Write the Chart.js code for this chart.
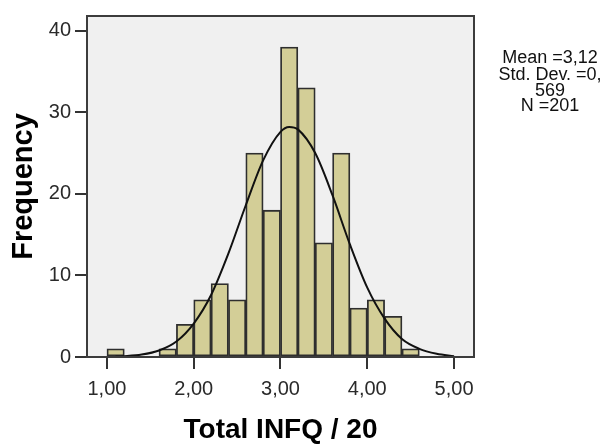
<!DOCTYPE html>
<html>
<head>
<meta charset="utf-8">
<script src="https://cdn.jsdelivr.net/npm/chart.js@4"></script>
<style>
  html, body { margin: 0; padding: 0; background: #fff; }
  #wrap { width: 606px; height: 444px; }
</style>
</head>
<body>
<div id="wrap"><canvas id="hist" width="606" height="444"></canvas></div>
<script>
// histogram bins (lower edge, width 0.2) and counts
const binStart = [1.0, 1.2, 1.4, 1.6, 1.8, 2.0, 2.2, 2.4, 2.6, 2.8, 3.0, 3.2, 3.4, 3.6, 3.8, 4.0, 4.2, 4.4];
const counts   = [1,   0,   0,   1,   4,   7,   9,   7,   25,  18,  38,  33,  14,  25,  6,   7,   5,   1];
const binWidth = 0.2;

// normal curve
const curveX = [1.1, 1.2, 1.4, 1.6, 1.8, 2.0, 2.2, 2.4, 2.6, 2.8, 3.0, 3.1, 3.2, 3.4, 3.6, 3.8, 4.0, 4.2, 4.4, 4.6, 4.8, 5.0];
const curveY = [0.05, 0.1, 0.3, 0.8, 1.9, 4.1, 7.6, 12.7, 18.6, 24.1, 27.6, 28.2, 27.9, 25.0, 19.8, 13.8, 8.5, 4.7, 2.2, 1.0, 0.4, 0.1];

const xTicks = [1, 2, 3, 4, 5];
const yTicks = [0, 10, 20, 30, 40];
const statsLines = ['Mean =3,12', 'Std. Dev. =0,', '569', 'N =201'];

const fontName = '"Liberation Sans", Arial, sans-serif';

// grey plot area + frame + stats text
const frame = {
  id: 'frame',
  beforeDraw(chart) {
    const a = chart.chartArea, ctx = chart.ctx;
    ctx.save();
    ctx.fillStyle = '#f0f0f0';
    ctx.fillRect(a.left, a.top, a.right - a.left, a.bottom - a.top);
    ctx.restore();
  },
  afterDraw(chart) {
    const a = chart.chartArea, ctx = chart.ctx;
    ctx.save();
    ctx.strokeStyle = '#3c3c3c';
    ctx.lineWidth = 2;
    ctx.strokeRect(a.left, a.top, a.right - a.left, a.bottom - a.top);
    ctx.fillStyle = '#111';
    ctx.font = '18px ' + fontName;
    ctx.textAlign = 'center';
    ctx.textBaseline = 'middle';
    const ys = [58, 75, 91, 106];
    statsLines.forEach((t, i) => ctx.fillText(t, 550, ys[i]));
    ctx.restore();
  }
};

const barData = binStart.map((s, i) => ({x: s + binWidth / 2, y: counts[i]}));
const lineData = curveX.map((x, i) => ({x: x, y: curveY[i]}));

new Chart(document.getElementById('hist'), {
  type: 'bar',
  data: {
    datasets: [{
      type: 'line',
      data: lineData,
      borderColor: '#111',
      borderWidth: 2,
      pointRadius: 0,
      fill: false,
      cubicInterpolationMode: 'monotone',
      order: 0
    }, {
      type: 'bar',
      data: barData,
      backgroundColor: '#d3ce97',
      borderColor: '#2e2e2e',
      borderWidth: 1.8,
      borderSkipped: false,
      barPercentage: 1,
      categoryPercentage: 1,
      order: 1
    }]
  },
  options: {
    responsive: false,
    animation: false,
    events: [],
    layout: { padding: { top: 14, right: 132, left: 0, bottom: 0 } },
    plugins: { legend: { display: false }, tooltip: { enabled: false } },
    scales: {
      x: {
        type: 'linear',
        offset: false,
        min: 0.77,
        max: 5.23,
        afterBuildTicks: s => { s.ticks = xTicks.map(v => ({value: v})); },
        afterFit: s => { s.height = 87; },
        grid: { offset: false, drawOnChartArea: false, drawTicks: true, tickLength: 12, color: '#333', lineWidth: 2 },
        border: { display: false },
        ticks: {
          color: '#2a2a2a',
          font: { family: fontName, size: 20 },
          padding: 8,
          callback: v => v.toFixed(2).replace('.', ',')
        },
        title: {
          display: true,
          text: 'Total INFQ / 20',
          color: '#000',
          font: { family: fontName, size: 28, weight: 'bold', lineHeight: 1 },
          padding: { top: 0, bottom: 0 }
        }
      },
      y: {
        min: 0,
        max: 41.8,
        afterBuildTicks: s => { s.ticks = yTicks.map(v => ({value: v})); },
        afterFit: s => { s.width = 87; },
        grid: { drawOnChartArea: false, drawTicks: true, tickLength: 12, color: '#333', lineWidth: 2 },
        border: { display: false },
        ticks: {
          color: '#2a2a2a',
          font: { family: fontName, size: 20 },
          padding: 4
        },
        title: {
          display: true,
          text: 'Frequency',
          color: '#000',
          font: { family: fontName, size: 29, weight: 'bold', lineHeight: 1 },
          padding: { top: 9, bottom: 0 }
        }
      }
    }
  },
  plugins: [frame]
});
</script>
</body>
</html>
